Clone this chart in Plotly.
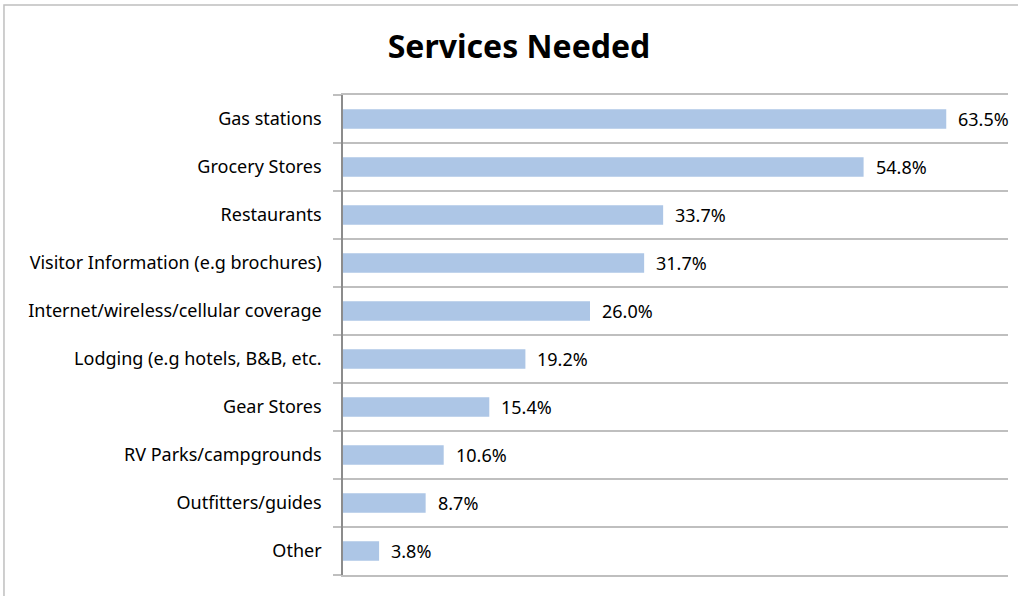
import plotly.graph_objects as go

# Share of respondents naming each service as needed (%)
services = [
    "Gas stations",
    "Grocery Stores",
    "Restaurants",
    "Visitor Information (e.g brochures)",
    "Internet/wireless/cellular coverage",
    "Lodging (e.g hotels, B&B, etc.",
    "Gear Stores",
    "RV Parks/campgrounds",
    "Outfitters/guides",
    "Other",
]
percent = [63.5, 54.8, 33.7, 31.7, 26.0, 19.2, 15.4, 10.6, 8.7, 3.8]

FONT = "Noto Sans"
BAR_COLOR = "#adc6e6"
GRID = "#bfbfbf"

fig = go.Figure(
    go.Bar(
        x=percent,
        y=services,
        orientation="h",
        marker=dict(color=BAR_COLOR, line=dict(width=0)),
        width=0.41,
        hoverinfo="skip",
    )
)

# value labels to the right of each bar
for name, val in zip(services, percent):
    fig.add_annotation(
        x=val, y=name, xref="x", yref="y",
        text=f"{val:.1f}%", showarrow=False,
        xanchor="left", xshift=10,
        font=dict(family=FONT, size=18, color="#000000"),
    )

# outer chart frame
fig.add_shape(
    type="rect", xref="paper", yref="paper",
    x0=-0.5098, x1=1.1, y0=-0.06, y1=1.1875,
    line=dict(color=GRID, width=1.5), fillcolor="rgba(0,0,0,0)",
    layer="below",
)

fig.update_layout(
    width=1018, height=596,
    margin=dict(l=343, r=10, t=95, b=21),
    paper_bgcolor="white", plot_bgcolor="white",
    showlegend=False,
    title=dict(
        text="<b>Services Needed</b>",
        x=519 / 1018, xanchor="center",
        y=1 - 47 / 596, yanchor="middle",
        font=dict(family=FONT, size=32, color="#000000"),
    ),
    font=dict(family=FONT, size=18, color="#000000"),
    xaxis=dict(
        range=[0, 70], showticklabels=False, ticks="",
        showgrid=False, zeroline=False,
        showline=True, linecolor=GRID, linewidth=1.5, mirror=True,
        fixedrange=True,
    ),
    yaxis=dict(
        categoryorder="array", categoryarray=services[::-1],
        tickson="boundaries", ticks="outside", ticklen=8,
        tickcolor=GRID, tickwidth=1.5,
        showgrid=True, gridcolor=GRID, gridwidth=1.5,
        showline=True, linecolor="#8c8c8c", linewidth=1.5,
        ticklabelstandoff=16,
        tickfont=dict(family=FONT, size=18, color="#000000"),
        fixedrange=True,
    ),
)

fig.write_html("out.html")
